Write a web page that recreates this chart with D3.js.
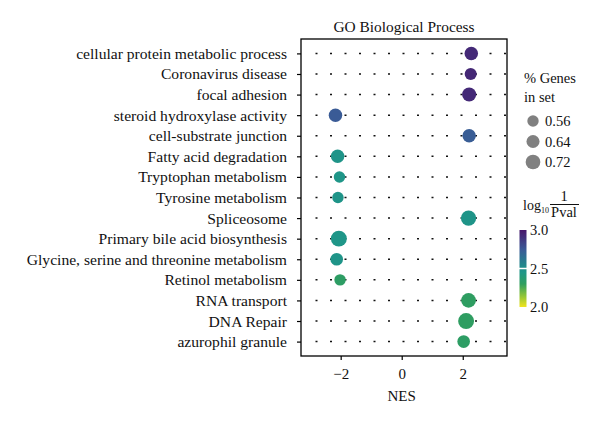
<!DOCTYPE html>
<html>
  <head>
    <meta charset="utf-8">
    <script src="https://cdn.jsdelivr.net/npm/d3@7"></script>
    <style>
      body { margin: 0; background: #fff; }
      svg { font-family: 'Liberation Serif', 'DejaVu Serif', serif; }
    </style>
  </head>
  <body>
    <svg></svg>
    <script>
      let terms = [
        "cellular protein metabolic process", "Coronavirus disease", "focal adhesion",
        "steroid hydroxylase activity", "cell-substrate junction", "Fatty acid degradation",
        "Tryptophan metabolism", "Tyrosine metabolism", "Spliceosome",
        "Primary bile acid biosynthesis", "Glycine, serine and threonine metabolism",
        "Retinol metabolism", "RNA transport", "DNA Repair", "azurophil granule"
      ];
      let nes = [2.28, 2.26, 2.21, -2.17, 2.21, -2.1, -2.04, -2.09, 2.19, -2.06, -2.13, -2.02, 2.19, 2.11, 2.03];
      let genePct = [0.66, 0.59, 0.69, 0.66, 0.66, 0.66, 0.56, 0.56, 0.75, 0.78, 0.62, 0.56, 0.72, 0.78, 0.62];
      let logP = [2.93, 2.94, 2.93, 2.74, 2.73, 2.46, 2.45, 2.46, 2.46, 2.45, 2.46, 2.32, 2.31, 2.31, 2.32];

      let xTicks = [-2, 0, 2];
      let sizeLegend = [0.56, 0.64, 0.72];
      let colorTicks = [3.0, 2.5, 2.0];

      let data = terms.map((t, i) => ({term: t, nes: nes[i], pct: genePct[i], p: logP[i]}));

      let w = 600, h = 421;
      let frame = {left: 301, right: 507, top: 39, bottom: 356};
      let fs = 15.6, legendFs = 14.5;

      let svg = d3.select("svg").attr("width", w).attr("height", h);

      let x = d3.scaleLinear().domain([-3.3, 3.45]).range([frame.left, frame.right]);
      let y = d3.scalePoint().domain(terms).range([frame.top, frame.bottom]).padding(0.7);
      let r = d3.scaleLinear().domain([0, 1]).range([0, 10.2]);
      //viridis-like map as it looks in the figure
      let color = d3.scaleLinear()
                    .domain([2.0, 2.15, 2.3, 2.45, 2.55, 2.75, 3.0])
                    .range(["#f0e41e", "#8cc33a", "#2f9e5e", "#1f9688", "#22858c", "#3b5996", "#47176b"]);

      //dotted row lines
      svg.append("g")
         .selectAll("line")
         .data(terms)
         .enter()
         .append("line")
         .attr("x1", 315.5)
         .attr("x2", frame.right)
         .attr("y1", d => y(d))
         .attr("y2", d => y(d))
         .attr("stroke", "#111")
         .attr("stroke-width", 1.5)
         .attr("stroke-dasharray", "2,12.5");

      //dots
      svg.append("g")
         .selectAll("circle")
         .data(data)
         .enter()
         .append("circle")
         .attr("cx", d => x(d.nes))
         .attr("cy", d => y(d.term))
         .attr("r", d => r(d.pct))
         .attr("fill", d => color(d.p));

      //frame
      svg.append("rect")
         .attr("x", frame.left)
         .attr("y", frame.top)
         .attr("width", frame.right - frame.left)
         .attr("height", frame.bottom - frame.top)
         .attr("fill", "none")
         .attr("stroke", "#000")
         .attr("stroke-width", 1.3);

      //axes
      let yAxis = svg.append("g")
         .attr("transform", `translate(${frame.left},0)`)
         .call(d3.axisLeft(y).tickSize(4).tickPadding(10));
      yAxis.attr("font-family", null).attr("font-size", fs);
      yAxis.select(".domain").remove();
      yAxis.selectAll("text").attr("fill", "#111");
      yAxis.selectAll("line").attr("stroke-width", 1.2);

      let xAxis = svg.append("g")
         .attr("transform", `translate(0,${frame.bottom})`)
         .call(d3.axisBottom(x).tickValues(xTicks).tickSize(4).tickPadding(8)
                 .tickFormat(d => d < 0 ? "\u2212" + Math.abs(d) : d));
      xAxis.attr("font-family", null).attr("font-size", 15);
      xAxis.select(".domain").remove();
      xAxis.selectAll("text").attr("fill", "#111");
      xAxis.selectAll("line").attr("stroke-width", 1.2);

      svg.append("text")
         .attr("x", x(0))
         .attr("y", 401)
         .attr("text-anchor", "middle")
         .attr("font-size", 15)
         .attr("fill", "#111")
         .text("NES");

      //title
      svg.append("text")
         .attr("x", (frame.left + frame.right) / 2)
         .attr("y", 32)
         .attr("text-anchor", "middle")
         .attr("font-size", 15.4)
         .attr("fill", "#111")
         .text("GO Biological Process");

      //size legend
      let legend = svg.append("g").attr("font-size", legendFs).attr("fill", "#111");
      legend.append("text").attr("x", 524).attr("y", 83).text("% Genes");
      legend.append("text").attr("x", 524).attr("y", 102).text("in set");

      let ly = d3.scalePoint().domain(sizeLegend).range([121, 162]);
      legend.selectAll("circle")
            .data(sizeLegend)
            .enter()
            .append("circle")
            .attr("cx", 533)
            .attr("cy", d => ly(d))
            .attr("r", d => r(d))
            .attr("fill", "#808080");
      legend.selectAll(".sizeLabel")
            .data(sizeLegend)
            .enter()
            .append("text")
            .attr("class", "sizeLabel")
            .attr("x", 545)
            .attr("y", d => ly(d) + 5)
            .text(d => d.toFixed(2));

      //color legend title
      legend.append("text").attr("x", 523).attr("y", 210).attr("font-size", 14)
            .html("log<tspan font-size='8' dy='2.5'>10</tspan>");
      legend.append("text").attr("x", 564).attr("y", 201).attr("text-anchor", "middle").text("1");
      legend.append("line").attr("x1", 550).attr("x2", 579).attr("y1", 204.5).attr("y2", 204.5)
            .attr("stroke", "#111").attr("stroke-width", 1);
      legend.append("text").attr("x", 564).attr("y", 217).attr("text-anchor", "middle").text("Pval");

      //colorbar
      let cy = d3.scaleLinear().domain([2, 3]).range([307, 230]);
      let defs = svg.append("defs");
      let grad = defs.append("linearGradient")
                     .attr("id", "cbar")
                     .attr("x1", 0).attr("x2", 0).attr("y1", 1).attr("y2", 0);
      grad.selectAll("stop")
          .data(d3.range(0, 1.001, 0.05))
          .enter()
          .append("stop")
          .attr("offset", d => d)
          .attr("stop-color", d => color(2 + d));

      svg.append("rect")
         .attr("x", 519.5)
         .attr("y", cy(3))
         .attr("width", 7)
         .attr("height", cy(2) - cy(3))
         .attr("fill", "url(#cbar)");

      svg.append("line")
         .attr("x1", 519).attr("x2", 527)
         .attr("y1", cy(2.5)).attr("y2", cy(2.5))
         .attr("stroke", "#fff").attr("stroke-width", 1.5);

      legend.selectAll(".cLabel")
            .data(colorTicks)
            .enter()
            .append("text")
            .attr("class", "cLabel")
            .attr("x", 530)
            .attr("y", d => cy(d) + 5)
            .text(d => d.toFixed(1));
    </script>
  </body>
</html>
